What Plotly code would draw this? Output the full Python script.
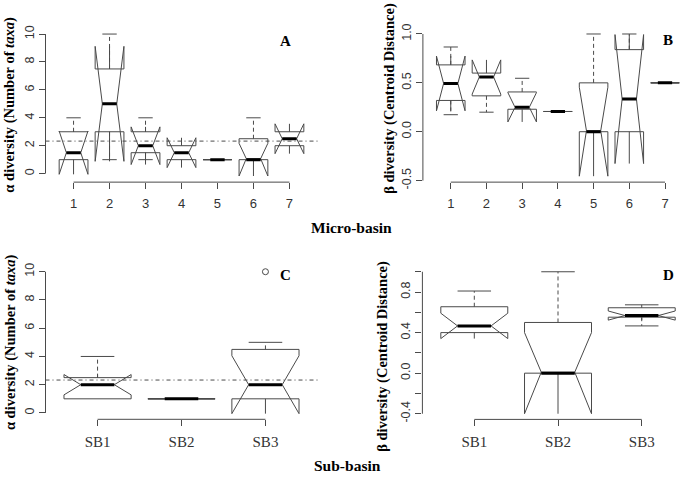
import plotly.graph_objects as go

W, H = 685, 482

# ---------------- data ----------------
# Panel A: alpha diversity per micro-basin
micro_pos = [1, 2, 3, 4, 5, 6, 7]
micro_labels = ["1", "2", "3", "4", "5", "6", "7"]
a_q1 = [1, 3, 1.5, 1, 1, 1, 2]
a_med = [1.5, 5, 2, 1.5, 1, 1, 2.5]
a_q3 = [3, 7.5, 3, 2, 1, 2.5, 3]
a_lo = [1, 1, 1, 1, 1, 1, 2]
a_hi = [4, 10, 4, 2, 1, 4, 3]
a_notch = [1.55, 4.12, 1.35, 1.07, 0, 1.17, 1.07]
alpha_mean = 2.33

# Panel B: beta diversity per micro-basin
b_q1 = [0.32, 0.367, 0.23, 0.207, 0.0, 0.0, 0.5]
b_med = [0.494, 0.56, 0.25, 0.207, 0.0, 0.334, 0.5]
b_q3 = [0.684, 0.60, 0.407, 0.207, 0.5, 0.84, 0.5]
b_lo = [0.174, 0.2, 0.23, 0.207, 0.0, 0.0, 0.5]
b_hi = [0.867, 0.60, 0.547, 0.207, 1.0, 1.0, 0.5]
b_notch = [0.28, 0.175, 0.15, 0, 0.455, 0.66, 0]

# Panel C: alpha diversity per sub-basin
sub_pos = [1, 2, 3]
sub_labels = ["SB1", "SB2", "SB3"]
c_q1 = [1, 1, 1]
c_med = [2, 1, 2]
c_q3 = [2.5, 1, 4.5]
c_lo = [1, 1, 1]
c_hi = [4, 1, 5]
c_notch = [0.72, 0, 2.05]
c_out_x = [3]
c_out_y = [10]

# Panel D: beta diversity per sub-basin
d_q1 = [0.40, 0.0, 0.552]
d_med = [0.466, 0.0, 0.568]
d_q3 = [0.655, 0.5, 0.645]
d_lo = [0.40, 0.0, 0.466]
d_hi = [0.81, 1.0, 0.674]
d_notch = [0.125, 0.4, 0.045]

# y tick definitions
a_yticks = [0, 2, 4, 6, 8, 10]
a_yticktext = ["0", "2", "4", "6", "8", "10"]
b_yticks = [-0.5, 0.0, 0.5, 1.0]
b_yticktext = ["-0.5", "0.0", "0.5", "1.0"]
d_yticks = [-0.4, -0.2, 0.0, 0.2, 0.4, 0.6, 0.8, 1.0]
d_yticktext = ["-0.4", "", "0.0", "", "0.4", "", "0.8", ""]

# ---------------- style ----------------
LINE = "#4a4a4a"
SANS = "Liberation Sans, Arial, sans-serif"
SERIF = "Liberation Serif, Times New Roman, serif"
BOXW = 0.8
HALF_STAPLE = 0.2


def px_x(px):
    return px / W


def px_y(py):
    return 1 - py / H


# panels: (suffix, x-domain px, y-domain px, x range, y range)
panels = {
    "A": dict(s="", xd=(45.5, 317.5), yd=(24.9, 182.3), xr=[0.22, 7.78], yr=[-0.61, 10.41]),
    "B": dict(s="2", xd=(422.9, 685), yd=(24.2, 182.3), xr=[0.22, 7.56], yr=[-0.516, 1.065]),
    "C": dict(s="3", xd=(45.5, 317.5), yd=(268.2, 425.0), xr=[0.38, 3.62], yr=[-0.45, 10.4]),
    "D": dict(s="4", xd=(422.4, 685), yd=(268.2, 425.1), xr=[0.38, 3.517], yr=[-0.456, 1.056]),
}

fig = go.Figure()
shapes = []


def add_boxes(key, pos, q1, med, q3, lo, hi, notch):
    p = panels[key]
    xa, ya = "x" + p["s"], "y" + p["s"]
    fig.add_trace(go.Box(
        x=pos, q1=q1, median=med, q3=q3, lowerfence=q1, upperfence=q3,
        notched=True, notchspan=notch, notchwidth=0.25, width=BOXW,
        whiskerwidth=0, fillcolor="rgba(0,0,0,0)",
        line=dict(color=LINE, width=1), boxpoints=False,
        xaxis=xa, yaxis=ya, showlegend=False, hoverinfo="skip"))
    # dashed whiskers, staples and thick medians
    wx, wy, sx, sy, mx, my = [], [], [], [], [], []
    for i, xp in enumerate(pos):
        if hi[i] > q3[i]:
            wx += [xp, xp, None]
            wy += [q3[i], hi[i], None]
            sx += [xp - HALF_STAPLE, xp + HALF_STAPLE, None]
            sy += [hi[i], hi[i], None]
        if lo[i] < q1[i]:
            wx += [xp, xp, None]
            wy += [q1[i], lo[i], None]
            sx += [xp - HALF_STAPLE, xp + HALF_STAPLE, None]
            sy += [lo[i], lo[i], None]
        mx += [xp - HALF_STAPLE, xp + HALF_STAPLE, None]
        my += [med[i], med[i], None]
    fig.add_trace(go.Scatter(x=wx, y=wy, mode="lines", xaxis=xa, yaxis=ya,
                             line=dict(color=LINE, width=1, dash="4px,3px"),
                             showlegend=False, hoverinfo="skip"))
    fig.add_trace(go.Scatter(x=sx, y=sy, mode="lines", xaxis=xa, yaxis=ya,
                             line=dict(color=LINE, width=1),
                             showlegend=False, hoverinfo="skip"))
    fig.add_trace(go.Scatter(x=mx, y=my, mode="lines", xaxis=xa, yaxis=ya,
                             line=dict(color="#000000", width=3),
                             showlegend=False, hoverinfo="skip"))


add_boxes("A", micro_pos, a_q1, a_med, a_q3, a_lo, a_hi, a_notch)
add_boxes("B", micro_pos, b_q1, b_med, b_q3, b_lo, b_hi, b_notch)
add_boxes("C", sub_pos, c_q1, c_med, c_q3, c_lo, c_hi, c_notch)
add_boxes("D", sub_pos, d_q1, d_med, d_q3, d_lo, d_hi, d_notch)

fig.add_trace(go.Scatter(x=c_out_x, y=c_out_y, mode="markers", xaxis="x3", yaxis="y3",
                         marker=dict(symbol="circle-open", size=6, color=LINE, line=dict(width=1)),
                         showlegend=False, hoverinfo="skip"))

layout = dict(
    width=W, height=H, autosize=False,
    margin=dict(l=0, r=0, t=0, b=0),
    paper_bgcolor="white", plot_bgcolor="white",
    showlegend=False,
)

axis_common = dict(showgrid=False, zeroline=False, showline=False, ticks="outside",
                   ticklen=6, tickwidth=1, tickcolor=LINE)

xinfo = {"A": (micro_pos, micro_labels, SANS, 13), "B": (micro_pos, micro_labels, SANS, 13),
         "C": (sub_pos, sub_labels, SERIF, 15), "D": (sub_pos, sub_labels, SERIF, 15)}
yinfo = {"A": (a_yticks, a_yticktext), "B": (b_yticks, b_yticktext),
         "C": (a_yticks, a_yticktext), "D": (d_yticks, d_yticktext)}

for key, p in panels.items():
    s = p["s"]
    xname = "xaxis" + s
    yname = "yaxis" + s
    tv, tt, ff, fs = xinfo[key]
    layout[xname] = dict(axis_common, domain=[px_x(p["xd"][0]), px_x(p["xd"][1])],
                         range=p["xr"], anchor="y" + s, tickvals=tv, ticktext=tt,
                         tickfont=dict(family=ff, size=fs, color="#333333"),
                         ticklabelstandoff=3)
    yv, yt = yinfo[key]
    layout[yname] = dict(axis_common, domain=[px_y(p["yd"][1]), px_y(p["yd"][0])],
                         range=p["yr"], anchor="x" + s, tickvals=yv, ticktext=yt,
                         tickangle=-90,
                         tickfont=dict(family=SANS, size=12.5, color="#333333"))
    # R-style axis lines spanning first..last tick
    shapes.append(dict(type="line", xref="x" + s, yref="paper",
                       x0=tv[0], x1=tv[-1], y0=px_y(p["yd"][1]), y1=px_y(p["yd"][1]),
                       line=dict(color=LINE, width=1)))
    shapes.append(dict(type="line", xref="paper", yref="y" + s,
                       x0=px_x(p["xd"][0]), x1=px_x(p["xd"][0]), y0=yv[0], y1=yv[-1],
                       line=dict(color=LINE, width=1)))

# reference (mean) lines in alpha panels
for s in ["", "3"]:
    shapes.append(dict(type="line", xref="x" + s + " domain", yref="y" + s,
                       x0=0, x1=1, y0=alpha_mean, y1=alpha_mean,
                       line=dict(color=LINE, width=1, dash="4px,3px,1px,3px")))

layout["shapes"] = shapes

ann = []


def add_text(text, x, y, size, angle=0):
    ann.append(dict(text=text, x=px_x(x), y=px_y(y), xref="paper", yref="paper",
                    showarrow=False, xanchor="center", yanchor="middle", textangle=angle,
                    font=dict(family=SERIF, size=size, color="#000000")))


add_text("<b>A</b>", 285, 38, 15)
add_text("<b>B</b>", 668, 37, 15)
add_text("<b>C</b>", 285, 277, 15)
add_text("<b>D</b>", 668, 277, 15)
add_text("<b>Micro-basin</b>", 351, 229, 15.5)
add_text("<b>Sub-basin</b>", 348, 472, 15.5)
add_text("<b>α diversity (Number of <i>taxa</i>)</b>", 10, 103, 14.5, -90)
add_text("<b>β diversity (Centroid Distance)</b>", 390, 97, 14.5, -90)
add_text("<b>α diversity (Number of <i>taxa</i>)</b>", 10, 346, 14.5, -90)
add_text("<b>β diversity (Centroid Distance)</b>", 383, 361, 14.5, -90)
layout["annotations"] = ann

fig.update_layout(**layout)
fig.write_html("out.html",
               config={"displayModeBar": False},
               post_script="document.body.style.margin='0';document.body.style.overflow='hidden';")
